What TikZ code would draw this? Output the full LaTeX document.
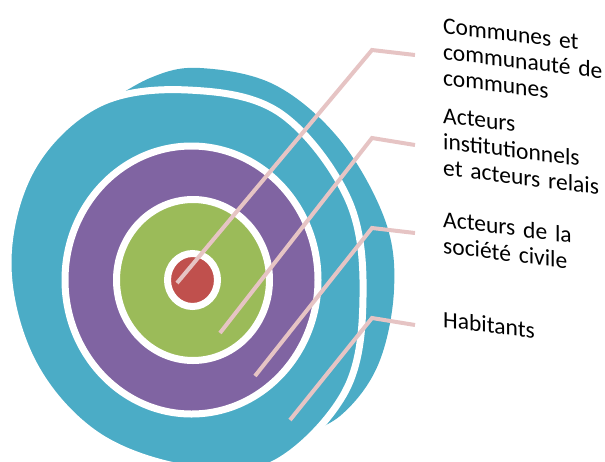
\documentclass[tikz,border=0pt]{standalone}
\usepackage{fontspec}
\setmainfont{Carlito}
\usepackage{xcolor}
\usepackage{tikz}
\usetikzlibrary{positioning}
\definecolor{RingTeal}{RGB}{75, 172, 198}
\definecolor{RingPurple}{RGB}{128, 100, 162}
\definecolor{RingGreen}{RGB}{155, 187, 89}
\definecolor{RingRed}{RGB}{192, 80, 77}
\definecolor{LeaderPink}{RGB}{230, 196, 196}

\begin{document}
\begin{tikzpicture}[x=1pt, y=-1pt,
    ring/.style={draw=white, line width=7pt},
    leader/.style={draw=LeaderPink, line width=4pt},
    ringtext/.style={anchor=base west, align=left, text width=175pt, inner sep=0pt,
      yslant=-0.125, font=\fontsize{23.5}{26}\selectfont}]
  \useasboundingbox (0,0) rectangle (605,461);
  \clip (0,0) rectangle (605,461);

  % back crescent, then the rings from outside in
  \fill[RingTeal] plot[smooth, tension=0.6] coordinates {(96,110) (150,78) (200,68) (275,85)
    (340,140) (385,220) (394,290) (378,365) (340,416) (290,440)} -- (200,280) -- cycle;
  \filldraw[ring, fill=RingTeal] plot[smooth cycle, tension=0.6] coordinates {(272,465)
    (345,392) (363,297) (348,199) (280,113) (188,90) (98,104) (32,168) (8,263) (32,361)
    (95,434) (185,468)};
  \filldraw[ring, fill=RingPurple] (191.5,280) ellipse [x radius=126.5pt, y radius=134pt];
  \filldraw[ring, fill=RingGreen] (193,280) ellipse [x radius=76.5pt, y radius=80.5pt];
  \filldraw[ring, fill=RingRed] (192.5,280) ellipse [x radius=25pt, y radius=26.5pt];

  % labels
  \node[ringtext] (communes) at (443,33) {Communes et\\communauté de\\communes};
  \node[ringtext] (acteurs) at (443,123) {Acteurs\\institutionnels\\et acteurs relais};
  \node[ringtext] (societe) at (443,227) {Acteurs de la\\société civile};
  \node[ringtext] (habitants) at (443,327) {Habitants};

  % leader lines
  \coordinate (hub1) at (177,283);
  \coordinate (bend1) at (372,50);
  \coordinate (end1) at (415,55);
  \coordinate (hub2) at (220,333);
  \coordinate (bend2) at (372,138);
  \coordinate (end2) at (415,145);
  \coordinate (hub3) at (255,376);
  \coordinate (bend3) at (372,228);
  \coordinate (end3) at (415,233);
  \coordinate (hub4) at (290,420);
  \coordinate (bend4) at (372,318);
  \coordinate (end4) at (415,325);
  \draw[leader] (hub1) -- (bend1) -- (end1);
  \draw[leader] (hub2) -- (bend2) -- (end2);
  \draw[leader] (hub3) -- (bend3) -- (end3);
  \draw[leader] (hub4) -- (bend4) -- (end4);
\end{tikzpicture}
\end{document}
